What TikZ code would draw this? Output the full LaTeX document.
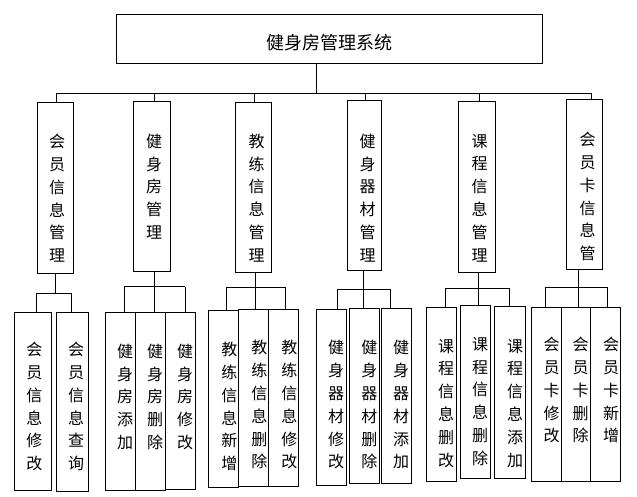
\documentclass[tikz,border=0pt]{standalone}
\usepackage{fontspec}
\newfontfamily\cjk{Noto Sans CJK SC}
\tikzset{
  bx/.style={draw=black, line width=0.9pt, inner sep=0pt, outer sep=0pt, rectangle},
  vtxt/.style={inner sep=0pt, align=center, font=\cjk\fontsize{16}{22.8}\selectfont},
  ln/.style={draw=black, line width=0.9pt},
}
\newcommand\mybox[8]{%
  \node[bx, minimum width={(#4-#2)*1pt}, minimum height={(#5-#3)*1pt}] (#1) at ({(#2+#4)/2},{-(#3+#5)/2}) {};
  \node[vtxt, anchor=north] (#1t) at (#6,{-(#7)+8}) {#8};
}
\begin{document}
\begin{tikzpicture}[x=1pt,y=1pt]
\useasboundingbox (0,0) rectangle (637,-497);
% title
\node[bx, minimum width=426pt, minimum height=49pt] (title) at (329,-38.5) {};
\node[inner sep=0pt, font=\cjk\fontsize{18}{20}\selectfont] (titlet) at (329.5,-42.5) {健身房管理系统};
% second level
\mybox{b1}{37.3}{102.3}{73.3}{273.3}{57}{142}{会\\员\\信\\息\\管\\理}
\mybox{b2}{133.3}{101.3}{170.7}{271.7}{154}{141.7}{健\\身\\房\\管\\理}
\mybox{b3}{235.3}{102.3}{271.3}{272.7}{256.7}{141.7}{教\\练\\信\\息\\管\\理}
\mybox{b4}{347.3}{100.3}{381.7}{270.7}{367.5}{141.7}{健\\身\\器\\材\\管\\理}
\mybox{b5}{458.3}{101.3}{495.7}{272.7}{479.7}{141.7}{课\\程\\信\\息\\管\\理}
\mybox{b6}{566.3}{99.3}{602.7}{269.3}{587.5}{140}{会\\员\\卡\\信\\息\\管}
% leaves
\mybox{l1}{14.3}{312.3}{51.7}{490.7}{34.3}{350}{会\\员\\信\\息\\修\\改}
\mybox{l2}{56.7}{312.3}{88.3}{491.7}{76}{350}{会\\员\\信\\息\\查\\询}
\mybox{l3}{105.3}{312.3}{135.3}{490.7}{125}{351.7}{健\\身\\房\\添\\加}
\mybox{l4}{135.3}{312.3}{165.7}{490.7}{155}{351.7}{健\\身\\房\\删\\除}
\mybox{l5}{165.7}{312.3}{195.3}{489.3}{185}{351.7}{健\\身\\房\\修\\改}
\mybox{l6}{208.7}{310.7}{238.7}{487.3}{229.3}{350}{教\\练\\信\\息\\新\\增}
\mybox{l7}{238.7}{309.3}{268.7}{486.3}{259.3}{348.3}{教\\练\\信\\息\\删\\除}
\mybox{l8}{268.7}{309.3}{298.7}{486.3}{289.3}{348.3}{教\\练\\信\\息\\修\\改}
\mybox{l9}{316.7}{309.3}{346}{485}{336}{348.3}{健\\身\\器\\材\\修\\改}
\mybox{l10}{349.7}{308.3}{379.3}{483.3}{369.3}{348.3}{健\\身\\器\\材\\删\\除}
\mybox{l11}{381.7}{308.3}{411.3}{483.3}{401}{348.3}{健\\身\\器\\材\\添\\加}
\mybox{l12}{426.3}{307.3}{456.3}{481.3}{446}{346.7}{课\\程\\信\\息\\删\\改}
\mybox{l13}{460.3}{305}{490.7}{478.3}{480}{345}{课\\程\\信\\息\\删\\除}
\mybox{l14}{494.3}{306.7}{525.3}{478.3}{515}{346.7}{课\\程\\信\\息\\添\\加}
\mybox{l15}{531.7}{307.3}{561.3}{481}{551.7}{345}{会\\员\\卡\\修\\改}
\mybox{l16}{561.3}{307.3}{590.7}{481}{580.7}{345}{会\\员\\卡\\删\\除}
\mybox{l17}{590.7}{307.3}{620.7}{481}{611}{345}{会\\员\\卡\\新\\增}
% top bus
\coordinate (top) at (316,-93.5);
\coordinate (busL) at (56,-93.5);
\coordinate (busR) at (591,-93.5);
\draw[ln] (title.south -| top) -- (top);
\draw[ln] (busL) -- (busR);
\draw[ln] (busL) -- (b1.north -| busL);
\draw[ln] (b2.north -| 154,0) -- (154,-93.5);
\draw[ln] (b3.north -| 254,0) -- (254,-93.5);
\draw[ln] (b4.north -| 365,0) -- (365,-93.5);
\draw[ln] (b5.north -| 479,0) -- (479,-93.5);
\draw[ln] (busR) -- (b6.north -| busR);
% group 1
\coordinate (g1s) at (55.3,-293.3);
\coordinate (g1l) at (36.7,-293.3);
\coordinate (g1r) at (71.3,-293.3);
\draw[ln] (b1.south -| g1s) -- (g1s);
\draw[ln] (g1l) -- (g1r);
\draw[ln] (g1l) -- (l1.north -| g1l);
\draw[ln] (g1r) -- (l2.north -| g1r);
% group 2
\coordinate (g2s) at (154.3,-286.7);
\coordinate (g2l) at (124.3,-286.7);
\coordinate (g2r) at (185,-286.7);
\draw[ln] (b2.south -| g2s) -- (g2s);
\draw[ln] (g2l) -- (g2r);
\draw[ln] (g2l) -- (l3.north -| g2l);
\draw[ln] (g2s) -- (l4.north -| g2s);
\draw[ln] (g2r) -- (l5.north -| g2r);
% group 3
\coordinate (g3s) at (255.3,-287.3);
\coordinate (g3l) at (226.7,-287.3);
\coordinate (g3r) at (285.3,-287.3);
\draw[ln] (b3.south -| g3s) -- (g3s);
\draw[ln] (g3l) -- (g3r);
\draw[ln] (g3l) -- (l6.north -| g3l);
\draw[ln] (g3s) -- (l7.north -| g3s);
\draw[ln] (g3r) -- (l8.north -| g3r);
% group 4
\coordinate (g4s) at (363.3,-289.3);
\coordinate (g4l) at (337.3,-289.3);
\coordinate (g4r) at (390.3,-289.3);
\draw[ln] (b4.south -| g4s) -- (g4s);
\draw[ln] (g4l) -- (g4r);
\draw[ln] (g4l) -- (l9.north -| g4l);
\draw[ln] (g4s) -- (l10.north -| g4s);
\draw[ln] (g4r) -- (l11.north -| g4r);
% group 5
\coordinate (g5s) at (478.3,-288.3);
\coordinate (g5l) at (445.7,-288.3);
\coordinate (g5r) at (509,-288.3);
\draw[ln] (b5.south -| g5s) -- (g5s);
\draw[ln] (g5l) -- (g5r);
\draw[ln] (g5l) -- (l12.north -| g5l);
\draw[ln] (g5s) -- (l13.north -| g5s);
\draw[ln] (g5r) -- (l14.north -| g5r);
% group 6
\coordinate (g6s) at (578.3,-287.3);
\coordinate (g6l) at (545.7,-287.3);
\coordinate (g6r) at (607.3,-287.3);
\draw[ln] (b6.south -| g6s) -- (g6s);
\draw[ln] (g6l) -- (g6r);
\draw[ln] (g6l) -- (l15.north -| g6l);
\draw[ln] (g6s) -- (l16.north -| g6s);
\draw[ln] (g6r) -- (l17.north -| g6r);
\end{tikzpicture}
\end{document}
